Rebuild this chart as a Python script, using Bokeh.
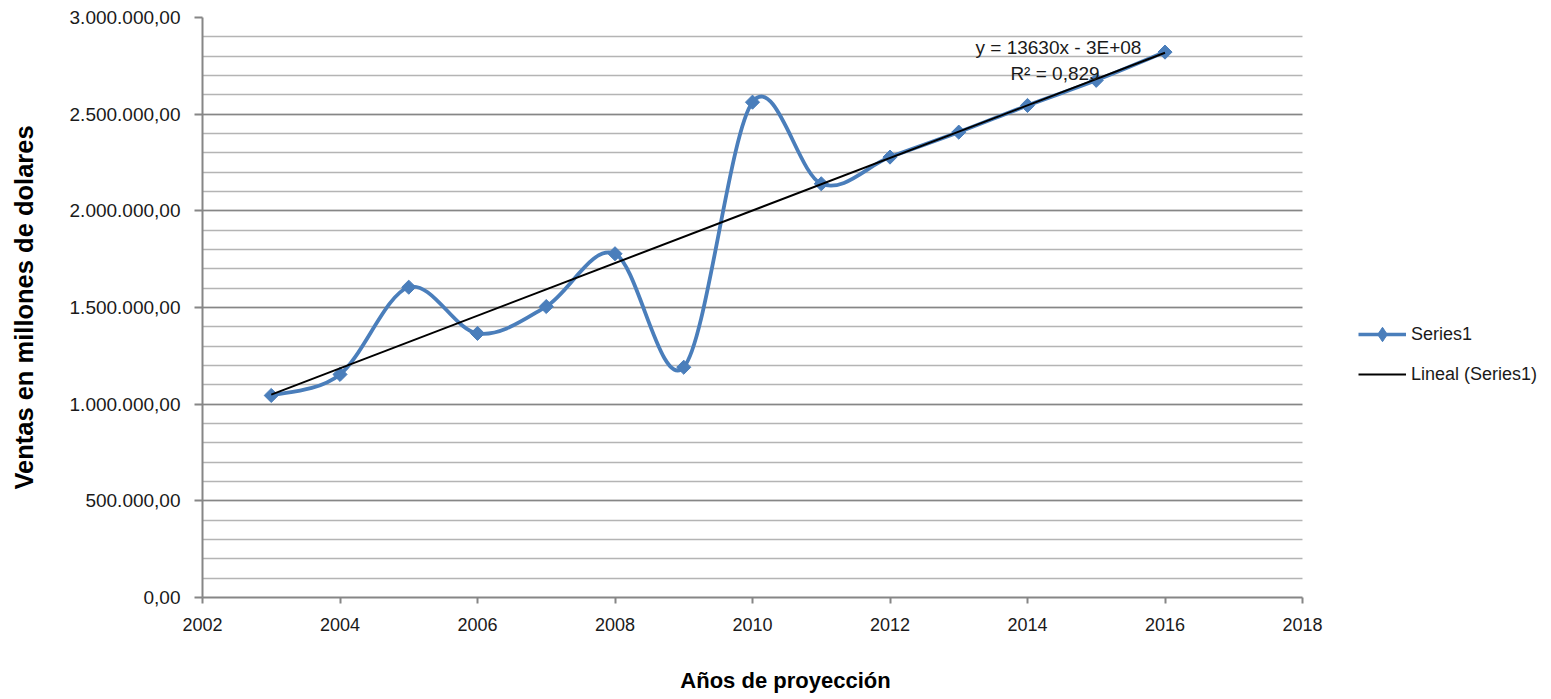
import numpy as np
from bokeh.plotting import figure
from bokeh.models import (Range1d, FixedTicker, CustomJSTickFormatter, Legend,
                          LegendItem, Label, ColumnDataSource, BoxAnnotation, LinearAxis)
from bokeh.embed import file_html
from bokeh.resources import INLINE

years = [2003, 2004, 2005, 2006, 2007, 2008, 2009, 2010, 2011, 2012, 2013, 2014, 2015, 2016]
sales = [1045000, 1154000, 1605000, 1366000, 1505000, 1778000, 1191000,
         2562000, 2140000, 2278000, 2407000, 2545000, 2675000, 2821000]
x_ticks = [2002, 2004, 2006, 2008, 2010, 2012, 2014, 2016, 2018]
y_ticks = [0, 500000, 1000000, 1500000, 2000000, 2500000, 3000000]
y_minor = list(range(0, 3000001, 100000))
equation_text = "y = 13630x - 3E+08"
r2_text = "R² = 0,829"
series_label = "Series1"
trend_label = "Lineal (Series1)"
x_title = "Años de proyección"
y_title = "Ventas en millones de dolares"

FONT = "Liberation Sans"
BLUE = "#4A7EBB"

X_MIN, X_MAX = 2002, 2018
PX_PER_YEAR = 1100 / (X_MAX - X_MIN)
# frame extends to the right edge so the legend (drawn inside the frame) is visible
x_range_end = X_MAX + 249 / PX_PER_YEAR
# horizontal centre of the x title (as in the original, right of the plot centre)
X_TITLE_POS = X_MIN + 583 / PX_PER_YEAR

p = figure(width=1551, height=699, output_backend="svg", toolbar_location=None,
           x_range=Range1d(X_MIN, x_range_end), y_range=Range1d(0, 3000000),
           min_border_left=202, min_border_right=0, min_border_top=17,
           min_border_bottom=102)
p.outline_line_color = None
p.background_fill_color = "white"
p.border_fill_color = "white"

# grids
p.xgrid.grid_line_color = None
p.ygrid.ticker = FixedTicker(ticks=y_ticks, minor_ticks=y_minor)
p.ygrid.grid_line_color = "#868686"
p.ygrid.grid_line_width = 1.3
p.ygrid.minor_grid_line_color = "#b4b4b4"
p.ygrid.minor_grid_line_width = 1.5
# mask the grid to the right of the plot area (legend zone)
p.add_layout(BoxAnnotation(left=X_MAX, fill_color="white", fill_alpha=1,
                           line_color=None, level="underlay"))

# axes
p.xaxis.ticker = FixedTicker(ticks=x_ticks)
p.xaxis.bounds = (X_MIN, X_MAX)
p.yaxis.ticker = FixedTicker(ticks=y_ticks, minor_ticks=y_minor)
p.yaxis.formatter = CustomJSTickFormatter(code="""
const s = Math.round(tick).toString().replace(/\\B(?=(\\d{3})+(?!\\d))/g, ".");
return s + ",00";
""")
for ax in (p.xaxis, p.yaxis):
    ax.axis_line_color = "#868686"
    ax.axis_line_width = 2
    ax.major_tick_line_color = "#868686"
    ax.major_tick_line_width = 2
    ax.major_tick_in = 0
    ax.minor_tick_line_color = None
    ax.major_label_text_font = FONT
    ax.major_label_text_color = "#1a1a1a"
    ax.axis_label_text_font = FONT
    ax.axis_label_text_font_style = "bold"
    ax.axis_label_text_color = "black"

p.xaxis.major_label_text_font_size = "18px"
p.yaxis.major_label_text_font_size = "19px"
p.xaxis.major_tick_out = 6
p.xaxis.major_label_standoff = 14
p.yaxis.major_tick_out = 8
p.yaxis.major_label_standoff = 14
p.yaxis.axis_label = y_title
p.yaxis.axis_label_text_font_size = "25.5px"
p.yaxis.axis_label_standoff = 29

# x-axis title carried as the single tick label of a bare secondary axis,
# which lets it sit right of the plot centre like in the original
title_axis = LinearAxis(ticker=FixedTicker(ticks=[X_TITLE_POS]),
                        major_label_overrides={X_TITLE_POS: x_title},
                        axis_line_color=None, major_tick_line_color=None,
                        major_tick_out=0, major_tick_in=0,
                        minor_tick_line_color=None, major_label_standoff=34,
                        major_label_text_font=FONT, major_label_text_font_style="bold",
                        major_label_text_font_size="22px", major_label_text_color="black")
p.add_layout(title_axis, "below")

# smoothed curve (Bezier segments, Catmull-Rom style control points)
xs = np.array(years, dtype=float)
ys = np.array(sales, dtype=float)
n = len(xs)
x0, y0, x1, y1, cx0, cy0, cx1, cy1 = [], [], [], [], [], [], [], []
t = 1.0 / 6.0
for i in range(n - 1):
    xm, ym = (xs[i - 1], ys[i - 1]) if i > 0 else (xs[i], ys[i])
    xp, yp = (xs[i + 2], ys[i + 2]) if i + 2 < n else (xs[i + 1], ys[i + 1])
    x0.append(xs[i]); y0.append(ys[i])
    x1.append(xs[i + 1]); y1.append(ys[i + 1])
    cx0.append(xs[i] + (xs[i + 1] - xm) * t); cy0.append(ys[i] + (ys[i + 1] - ym) * t)
    cx1.append(xs[i + 1] - (xp - xs[i]) * t); cy1.append(ys[i + 1] - (yp - ys[i]) * t)
src_bez = ColumnDataSource(dict(x0=x0, y0=y0, x1=x1, y1=y1, cx0=cx0, cy0=cy0, cx1=cx1, cy1=cy1))
p.bezier(x0="x0", y0="y0", x1="x1", y1="y1", cx0="cx0", cy0="cy0", cx1="cx1", cy1="cy1",
         source=src_bez, line_color=BLUE, line_width=3.8)

src = ColumnDataSource(dict(x=years, y=sales))
p.scatter("x", "y", source=src, marker="square", angle=np.pi / 4, size=10,
          fill_color=BLUE, line_color=BLUE)
# legend-only renderers (hidden in the plot)
leg_line = p.line("x", "y", source=src, line_color=BLUE, line_width=3.5, visible=False)
leg_marker = p.scatter("x", "y", source=src, marker="diamond", size=16,
                       fill_color=BLUE, line_color=BLUE, visible=False)

# linear trend
slope, intercept = np.polyfit(xs, ys, 1)
tx = [xs[0], xs[-1]]
ty = [slope * xs[0] + intercept, slope * xs[-1] + intercept]
trend = p.line(tx, ty, line_color="black", line_width=2)

p.add_layout(Label(x=2014.45, y=2845000, text=equation_text, text_align="center",
                   text_baseline="middle", text_font=FONT, text_font_size="19px",
                   text_color="#1a1a1a"))
p.add_layout(Label(x=2014.4, y=2711000, text=r2_text, text_align="center",
                   text_baseline="middle", text_font=FONT, text_font_size="19px",
                   text_color="#1a1a1a"))

legend = Legend(items=[LegendItem(label=series_label, renderers=[leg_line, leg_marker]),
                       LegendItem(label=trend_label, renderers=[trend])],
                location=(1156, 205), padding=0, margin=0, glyph_width=48,
                glyph_height=36, spacing=4, label_standoff=5,
                label_text_font=FONT, label_text_font_size="18px",
                label_text_color="#1a1a1a", background_fill_alpha=0,
                border_line_color=None)
p.add_layout(legend)

open("out.html", "w").write(file_html(p, INLINE))
